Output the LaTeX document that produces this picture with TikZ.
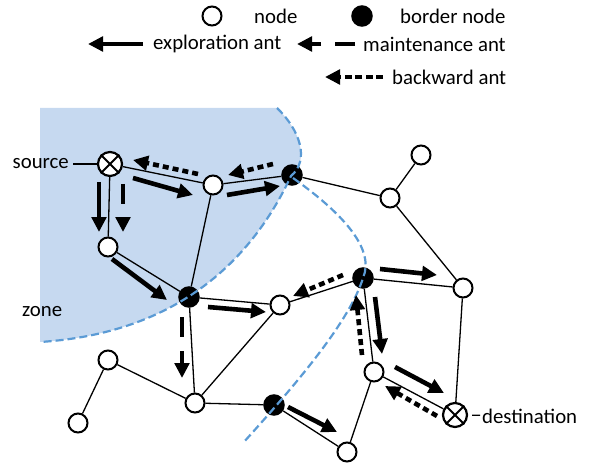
\documentclass[tikz,border=0pt]{standalone}
\usepackage{fontspec}
\setmainfont{Carlito}
\usetikzlibrary{arrows.meta}
\definecolor{zonefill}{HTML}{C6D9F0}
\definecolor{zoneline}{HTML}{5B9BD5}
\begin{document}
\begin{tikzpicture}[x=1pt,y=-1pt,
  every node/.style={font=\fontsize{20.8}{24}\selectfont},
  nd/.style={circle,draw,line width=2pt,fill=white,minimum size=19pt,inner sep=0pt},
  xnd/.style={circle,draw,line width=2.2pt,fill=white,minimum size=24pt,inner sep=0pt},
  bnd/.style={circle,draw,line width=2pt,fill=black,minimum size=19.5pt,inner sep=0pt},
  edge/.style={line width=1.3pt},
  ant/.style={line width=4.6pt,-{Triangle[length=15pt,width=14.5pt]}},
  explore/.style={ant},
  maint/.style={ant,dash pattern=on 20pt off 14pt},
  backw/.style={ant,dash pattern=on 6pt off 4pt},
  boundary/.style={zoneline,line width=2.2pt,dash pattern=on 8pt off 4pt},
  lbl/.style={inner sep=0pt,anchor=west}]
\useasboundingbox (0,0) rectangle (591,465);
% zone
\fill[zonefill] (40,108) -- (277,108) .. controls (300,130) and (310,160) .. (291,176)
  .. controls (240,285) and (150,335) .. (40,342) -- cycle;
% nodes
\node[xnd] (S) at (110,164) {};
\node[nd] (A) at (213,185) {};
\node[bnd] (B1) at (292,175) {};
\node[nd] (C) at (108,247) {};
\node[bnd] (B2) at (189,297) {};
\node[nd] (D) at (280,305) {};
\node[bnd] (B3) at (363,278) {};
\node[nd] (E) at (463,288) {};
\node[nd] (F) at (390,198) {};
\node[nd] (G) at (421,155) {};
\node[nd] (H) at (374,372) {};
\node[xnd] (T) at (455,415) {};
\node[nd] (I) at (347,452) {};
\node[bnd] (B4) at (274,405) {};
\node[nd] (J) at (195,403) {};
\node[nd] (K) at (108,360) {};
\node[nd] (L) at (78,423) {};
\draw[line width=2pt] (S.45) -- (S.225) (S.135) -- (S.315);
\draw[line width=2pt] (T.45) -- (T.225) (T.135) -- (T.315);
% edges
\draw[edge] (S) -- (A) (A) -- (B1) (S) -- (C) (C) -- (B2) (A) -- (B2)
  (B1) -- (F) (F) -- (G) (F) -- (E) (B2) -- (D) (B2) -- (J) (J) -- (D)
  (J) -- (B4) (J) -- (K) (K) -- (L) (D) -- (B3) (B3) -- (E) (B3) -- (H)
  (H) -- (T) (H) -- (I) (B4) -- (I) (E) -- (T);
% labels
\node[inner sep=0pt,anchor=east] (srcl) at (69,164) {source};
\draw[edge,shorten <=4pt] (srcl) -- (S);
\node[lbl] (dstl) at (482,416) {destination};
\draw[edge,shorten <=4pt,shorten >=2pt] (T) -- (dstl);
\node[lbl] (zl) at (22,312) {zone};
% zone boundaries
\draw[boundary] (277,108) .. controls (300,130) and (310,160) .. (291,176)
  .. controls (240,285) and (150,335) .. (40,342);
\draw[boundary] (293,178) .. controls (345,215) and (375,250) .. (363,278)
  .. controls (350,320) and (300,380) .. (243,443);
% ants
\coordinate (a1s) at (133,178); \coordinate (a1e) at (193,195);
\coordinate (a2s) at (198,174); \coordinate (a2e) at (133,160);
\coordinate (a3s) at (227,195); \coordinate (a3e) at (280,186);
\coordinate (a4s) at (273,164); \coordinate (a4e) at (228,175);
\coordinate (a5s) at (99,182); \coordinate (a5e) at (99,232);
\coordinate (a6s) at (123,184); \coordinate (a6e) at (123,232);
\coordinate (a7s) at (112,259); \coordinate (a7e) at (167,300);
\coordinate (a8s) at (208,307); \coordinate (a8e) at (266,312);
\coordinate (a9s) at (182,317); \coordinate (a9e) at (182,378);
\coordinate (a10s) at (343,275); \coordinate (a10e) at (293,296);
\coordinate (a11s) at (380,269); \coordinate (a11e) at (437,275);
\coordinate (a12s) at (362,355); \coordinate (a12e) at (356,295);
\coordinate (a13s) at (375,297); \coordinate (a13e) at (382,354);
\coordinate (a14s) at (395,367); \coordinate (a14e) at (444,393);
\coordinate (a15s) at (437,416); \coordinate (a15e) at (385,386);
\coordinate (a16s) at (288,407); \coordinate (a16e) at (337,432);
\draw[explore] (a1s) -- (a1e);
\draw[backw] (a2s) -- (a2e);
\draw[explore] (a3s) -- (a3e);
\draw[backw] (a4s) -- (a4e);
\draw[explore] (a5s) -- (a5e);
\draw[maint] (a6s) -- (a6e);
\draw[explore] (a7s) -- (a7e);
\draw[explore] (a8s) -- (a8e);
\draw[maint] (a9s) -- (a9e);
\draw[backw] (a10s) -- (a10e);
\draw[explore] (a11s) -- (a11e);
\draw[backw] (a12s) -- (a12e);
\draw[explore] (a13s) -- (a13e);
\draw[explore] (a14s) -- (a14e);
\draw[backw] (a15s) -- (a15e);
\draw[explore] (a16s) -- (a16e);
% legend
\node[nd] (lgn) at (212,16) {};
\node[lbl] (lgnt) at (254,16) {node};
\node[bnd] (lgb) at (362,16) {};
\node[lbl] (lgbt) at (400,16) {border node};
\coordinate (le1) at (143,44); \coordinate (le2) at (88,44);
\draw[explore] (le1) -- (le2);
\node[lbl] (let) at (153,44) {exploration ant};
\coordinate (lm1) at (355,44); \coordinate (lm2) at (297,44);
\draw[maint] (lm1) -- (lm2);
\node[lbl] (lmt) at (363,44) {maintenance ant};
\coordinate (lb1) at (383,77); \coordinate (lb2) at (325,77);
\draw[ant,dash pattern=on 7pt off 3.5pt] (lb1) -- (lb2);
\node[lbl] (lbt) at (392,77) {backward ant};
\end{tikzpicture}
\end{document}
